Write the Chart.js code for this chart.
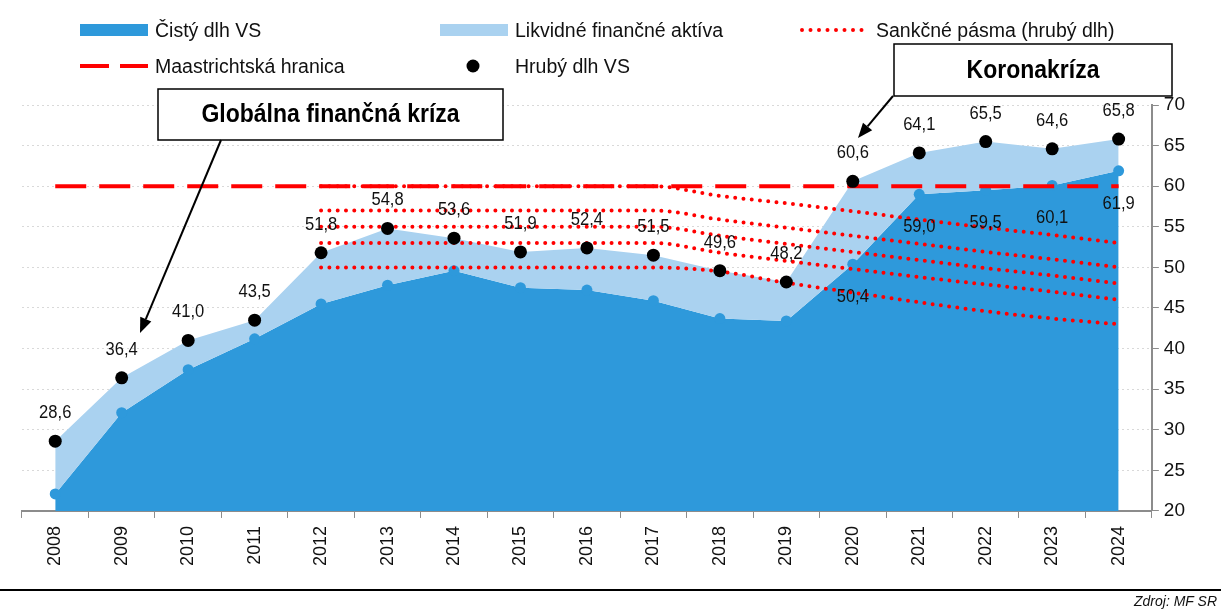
<!DOCTYPE html>
<html lang="sk">
<head>
<meta charset="utf-8">
<script src="https://cdn.jsdelivr.net/npm/chart.js@4.4.0/dist/chart.umd.min.js"></script>
<style>
  body { margin: 0; background: #fff; font-family: "Liberation Sans", Arial, sans-serif; }
  #wrap { position: relative; width: 1221px; height: 612px; overflow: hidden; }
  #chart { position: absolute; left: 0; top: 0; }
  .lg { position: absolute; font-size: 19.5px; line-height: 20px; height: 20px; color: #111; white-space: nowrap; }
  .ic { position: absolute; }
  #rule { position: absolute; left: 0; top: 589px; width: 1221px; height: 2px; background: #000; }
  #src { position: absolute; right: 4px; top: 593px; font-size: 14px; font-style: italic; color: #111; }
</style>
</head>
<body>
<div id="wrap">
  <canvas id="chart" width="1221" height="612"></canvas>

  <!-- legenda -->
  <div class="ic" style="left:80px;top:24px;width:68px;height:12px;background:#2E99DB"></div>
  <div class="lg" style="left:155px;top:20px">Čistý dlh VS</div>
  <div class="ic" style="left:440px;top:24px;width:68px;height:12px;background:#AAD2F0"></div>
  <div class="lg" style="left:515px;top:20px">Likvidné finančné aktíva</div>
  <svg class="ic" style="left:799px;top:24px" width="74" height="12">
    <line x1="3" y1="6" x2="71" y2="6" stroke="#FF0000" stroke-width="4" stroke-linecap="round" stroke-dasharray="0 8.5"/>
  </svg>
  <div class="lg" style="left:876px;top:20px">Sankčné pásma (hrubý dlh)</div>
  <svg class="ic" style="left:80px;top:60px" width="70" height="12">
    <line x1="0" y1="6" x2="68" y2="6" stroke="#FF0000" stroke-width="4" stroke-dasharray="29 11"/>
  </svg>
  <div class="lg" style="left:155px;top:56px">Maastrichtská hranica</div>
  <svg class="ic" style="left:466px;top:59px" width="14" height="14">
    <circle cx="7" cy="7" r="6.5" fill="#000"/>
  </svg>
  <div class="lg" style="left:515px;top:56px">Hrubý dlh VS</div>

  <div id="rule"></div>
  <div id="src">Zdroj: MF SR</div>
</div>

<script>
// Dáta
const roky = ["2008","2009","2010","2011","2012","2013","2014","2015","2016","2017","2018","2019","2020","2021","2022","2023","2024"];
const hrubyDlh = [28.6, 36.4, 41.0, 43.5, 51.8, 54.8, 53.6, 51.9, 52.4, 51.5, 49.6, 48.2, 60.6, 64.1, 65.5, 64.6, 65.8];
const cistyDlh = [22.1, 32.1, 37.4, 41.2, 45.5, 47.8, 49.6, 47.5, 47.2, 45.9, 43.7, 43.4, 50.4, 59.0, 59.5, 60.1, 61.9];
const maastricht = [60, 60, 60, 60, 60, 60, 60, 60, 60, 60, 60, 60, 60, 60, 60, 60, 60];
// sankčné pásma (5 hraníc)
const pasmo1 = [null, null, null, null, 60, 60, 60, 60, 60, 60, 58.8, 57.9, 56.9, 55.9, 54.9, 54.0, 53.0];
const pasmo2 = [null, null, null, null, 57, 57, 57, 57, 57, 57, 55.9, 54.9, 53.9, 52.9, 51.9, 51.0, 50.0];
const pasmo3 = [null, null, null, null, 55, 55, 55, 55, 55, 55, 53.9, 52.9, 51.9, 50.9, 49.9, 49.0, 48.0];
const pasmo4 = [null, null, null, null, 53, 53, 53, 53, 53, 53, 51.8, 50.8, 49.8, 48.8, 47.9, 47.0, 46.0];
const pasmo5 = [null, null, null, null, 50, 50, 50, 50, 50, 50, 49.5, 48.1, 46.9, 45.7, 44.6, 43.7, 43.0];
const yTicky = [20, 25, 30, 35, 40, 45, 50, 55, 60, 65, 70];
const popisCistyOd = "2020";

const FONT = '"Liberation Sans", Arial, sans-serif';
const fmt = v => v.toFixed(1).replace(".", ",");

function pasmoDataset(data) {
  return {
    label: "Sankčné pásma (hrubý dlh)",
    data: data,
    borderColor: "#FF0000",
    borderWidth: 4,
    borderDash: [0, 8.3],
    borderCapStyle: "round",
    cubicInterpolationMode: "monotone",
    pointRadius: 0,
    fill: false,
    order: 1
  };
}

// text trochu zúžený ako v origináli
function uzkyText(ctx, text, x, y) {
  ctx.save();
  ctx.translate(x, y);
  ctx.scale(0.92, 1);
  ctx.fillText(text, 0, 0);
  ctx.restore();
}

// Popisy hodnôt
const popisyPlugin = {
  id: "popisy",
  afterDatasetsDraw(chart) {
    const ctx = chart.ctx;
    ctx.save();
    ctx.font = "18px " + FONT;
    ctx.fillStyle = "#111";
    ctx.textAlign = "center";
    ctx.textBaseline = "middle";
    const hruby = chart.getDatasetMeta(8).data;
    hruby.forEach((pt, i) => {
      uzkyText(ctx, fmt(hrubyDlh[i]), pt.x, pt.y - 28);
    });
    const cisty = chart.getDatasetMeta(2).data;
    const od = roky.indexOf(popisCistyOd);
    cisty.forEach((pt, i) => {
      if (i >= od) uzkyText(ctx, fmt(cistyDlh[i]), pt.x, pt.y + 33);
    });
    ctx.restore();
  }
};

function sipka(ctx, x1, y1, x2, y2) {
  const ang = Math.atan2(y2 - y1, x2 - x1);
  const len = 15, w = 6;
  const bx = x2 - len * Math.cos(ang), by = y2 - len * Math.sin(ang);
  ctx.beginPath();
  ctx.moveTo(x1, y1);
  ctx.lineTo(bx, by);
  ctx.lineWidth = 2;
  ctx.strokeStyle = "#000";
  ctx.stroke();
  ctx.beginPath();
  ctx.moveTo(x2, y2);
  ctx.lineTo(bx + w * Math.sin(ang), by - w * Math.cos(ang));
  ctx.lineTo(bx - w * Math.sin(ang), by + w * Math.cos(ang));
  ctx.closePath();
  ctx.fillStyle = "#000";
  ctx.fill();
}

function box(ctx, x, y, w, h, text) {
  ctx.fillStyle = "#fff";
  ctx.fillRect(x, y, w, h);
  ctx.lineWidth = 1.5;
  ctx.strokeStyle = "#000";
  ctx.strokeRect(x, y, w, h);
  ctx.fillStyle = "#000";
  ctx.font = "bold 25px " + FONT;
  ctx.textAlign = "center";
  ctx.textBaseline = "middle";
  uzkyText(ctx, text, x + w / 2, y + h / 2 + 1);
}

// Anotácie (krízy)
const anotaciePlugin = {
  id: "anotacie",
  afterDraw(chart) {
    const ctx = chart.ctx;
    ctx.save();
    box(ctx, 158, 89, 345, 51, "Globálna finančná kríza");
    sipka(ctx, 221, 140, 140, 333);
    box(ctx, 894, 44, 278, 52, "Koronakríza");
    sipka(ctx, 893, 96, 858, 138);
    ctx.restore();
  }
};

new Chart(document.getElementById("chart"), {
  type: "line",
  data: {
    labels: roky,
    datasets: [
      {
        label: "Čistý dlh VS",
        data: cistyDlh,
        backgroundColor: "#2E99DB",
        borderWidth: 0,
        pointRadius: 0,
        fill: "start",
        order: 5
      },
      {
        label: "Likvidné finančné aktíva",
        data: hrubyDlh,
        backgroundColor: "#AAD2F0",
        borderWidth: 0,
        pointRadius: 0,
        fill: 0,
        order: 4
      },
      {
        label: "Čistý dlh VS (body)",
        data: cistyDlh,
        showLine: false,
        pointRadius: 5.5,
        pointBackgroundColor: "#2E99DB",
        pointBorderWidth: 0,
        fill: false,
        order: 3
      },
      {
        label: "Maastrichtská hranica",
        data: maastricht,
        borderColor: "#FF0000",
        borderWidth: 4,
        borderDash: [31, 13],
        pointRadius: 0,
        fill: false,
        order: 2
      },
      pasmoDataset(pasmo1),
      pasmoDataset(pasmo2),
      pasmoDataset(pasmo3),
      pasmoDataset(pasmo4),
      {
        label: "Hrubý dlh VS",
        data: hrubyDlh,
        showLine: false,
        pointRadius: 6.5,
        pointBackgroundColor: "#000",
        pointBorderWidth: 0,
        fill: false,
        order: 0
      },
      pasmoDataset(pasmo5)
    ]
  },
  options: {
    responsive: false,
    animation: false,
    layout: { padding: { left: 22, top: 105, right: 31, bottom: 38 } },
    plugins: {
      legend: { display: false },
      tooltip: { enabled: false }
    },
    scales: {
      x: {
        offset: true,
        grid: { offset: true, drawOnChartArea: false, drawTicks: true, tickLength: 7, tickColor: "#8C8C8C", color: "#8C8C8C" },
        border: { color: "#8C8C8C", width: 2 },
        ticks: { color: "#111", font: { size: 18, family: FONT }, minRotation: 90, maxRotation: 90, autoSkip: false, padding: 8 }
      },
      y: {
        position: "right",
        min: yTicky[0],
        max: yTicky[yTicky.length - 1],
        afterBuildTicks: axis => { axis.ticks = yTicky.map(v => ({ value: v })); },
        grid: { color: "#D9D9D9", tickColor: "#8C8C8C", tickLength: 7, lineWidth: 1 },
        border: { color: "#8C8C8C", width: 2, dash: [2, 3] },
        ticks: { color: "#111", font: { size: 19, family: FONT }, padding: 5 }
      }
    }
  },
  plugins: [popisyPlugin, anotaciePlugin]
});
</script>
</body>
</html>
